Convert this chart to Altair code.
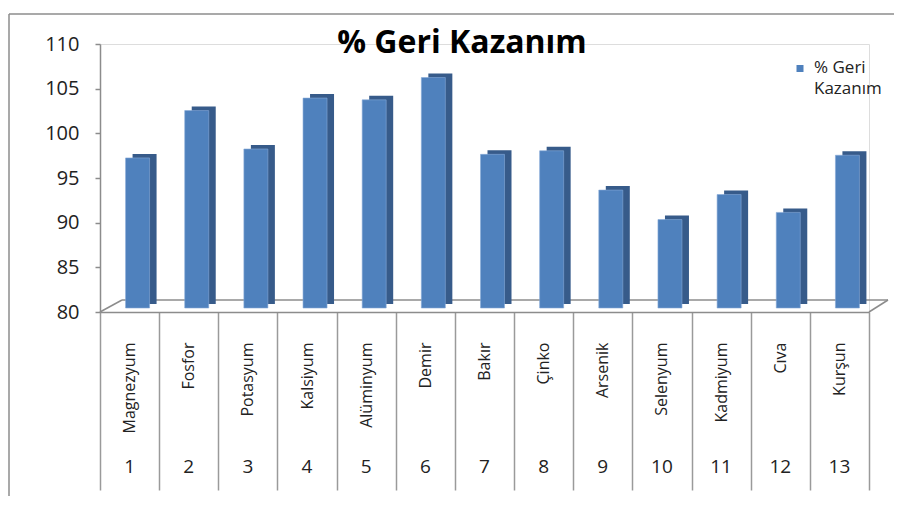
import altair as alt
import pandas as pd

# ---- data ----
names = ["Magnezyum", "Fosfor", "Potasyum", "Kalsiyum", "Alüminyum", "Demir", "Bakır",
         "Çinko", "Arsenik", "Selenyum", "Kadmiyum", "Cıva", "Kurşun"]
numbers = ["1", "2", "3", "4", "5", "6", "7", "8", "9", "10", "11", "12", "13"]
values = [96.8, 102.1, 97.8, 103.5, 103.3, 105.8, 97.2, 97.6, 93.2, 89.9, 92.7, 90.7, 97.1]
y_ticks = [80, 85, 90, 95, 100, 105, 110]
y_domain = [80, 110]
title_text = "% Geri Kazanım"
legend_lines = ["% Geri", "Kazanım"]

df = pd.DataFrame({"name": names, "num": numbers, "value": values})
one = alt.Data(values=[{}])

W, H = 769, 268
FONT = "Open Sans"
GREY = "#8c8c8c"
FRONT = "#4F81BD"
SIDE = "#375B8A"

band = alt.Scale(paddingInner=0, paddingOuter=0)
yscale = alt.Scale(domain=y_domain, zero=False, nice=False)

y_enc = alt.Y("value:Q", scale=yscale,
              axis=alt.Axis(values=y_ticks, title=None, grid=False, tickSize=5,
                            tickColor=GREY, tickWidth=1.5, domainColor=GREY, domainWidth=1.5,
                            labelFont=FONT, labelFontSize=20, labelColor="#222",
                            labelPadding=16))

x_names = alt.X("name:N", sort=names, scale=band,
                axis=alt.Axis(title=None, orient="bottom", labelAngle=-90,
                              labelAlign="right", labelBaseline="middle",
                              labelFont=FONT, labelFontSize=16, labelColor="#222",
                              labelPadding=-148, ticks=True, tickBand="extent",
                              tickSize=178, tickColor="#9a9a9a", tickWidth=1.5,
                              domainColor=GREY, domainWidth=1.5, labelLimit=300))

x_nums = alt.X("num:N", sort=numbers, scale=band,
               axis=alt.Axis(title=None, orient="bottom", labelAngle=0,
                             labelFont=FONT, labelFontSize=19, labelColor="#222",
                             labelPadding=145, ticks=False, domain=False))

# chart border (top and left edges visible in the reference)
border_left = alt.Chart(one).mark_rule(color=GREY, strokeWidth=1.5).encode(
    x=alt.value(-91), y=alt.value(-30), y2=alt.value(452))
border_top = alt.Chart(one).mark_rule(color=GREY, strokeWidth=1.5).encode(
    x=alt.value(-91), x2=alt.value(794), y=alt.value(-30))

# 3D floor outline
floor_back = alt.Chart(one).mark_rule(color=GREY, strokeWidth=1.5, yOffset=-12).encode(
    x=alt.value(22), x2=alt.value(788), y=alt.datum(80, scale=yscale))
floor_left = alt.Chart(one).mark_rule(color=GREY, strokeWidth=1.5, y2Offset=-12).encode(
    x=alt.value(0), x2=alt.value(22), y=alt.datum(80), y2=alt.datum(80))
floor_right = alt.Chart(one).mark_rule(color=GREY, strokeWidth=1.5, y2Offset=-12).encode(
    x=alt.value(769), x2=alt.value(788), y=alt.datum(80), y2=alt.datum(80))

back = alt.Chart(df).mark_bar(color=SIDE, size=24, xOffset=15, yOffset=-8, y2Offset=-8).encode(
    x=x_nums, y=y_enc, y2=alt.datum(80))
front = alt.Chart(df).mark_bar(color=FRONT, size=24, xOffset=8, yOffset=-4, y2Offset=-4,
                               stroke="#86A9D6", strokeWidth=0.6).encode(
    x=x_names, y=y_enc, y2=alt.datum(80))

legend_sym = alt.Chart(one).mark_square(size=49, color=FRONT, opacity=1).encode(
    x=alt.value(700), y=alt.value(24.5))
legend_txt = alt.Chart(one).mark_text(align="left", baseline="alphabetic", fontSize=17,
                                      font=FONT, lineHeight=21, color="#222").encode(
    x=alt.value(714), y=alt.value(29), text=alt.value(legend_lines))

title_mark = alt.Chart(one).mark_text(align="center", baseline="alphabetic", fontSize=32,
                                      font=FONT, fontWeight="bold", color="#000").encode(
    x=alt.value(362), y=alt.value(9), text=alt.value(title_text))

chart = alt.layer(
    border_left, border_top, floor_left, floor_back, floor_right, back, front,
    legend_sym, legend_txt, title_mark
).resolve_scale(x="independent").resolve_axis(x="independent").properties(
    width=W, height=H,
    autosize="none",
    padding={"left": 92, "top": 36, "right": 25, "bottom": 184},
).configure_view(stroke=None).configure(background="white")

chart.save("out.html", embed_options={"renderer": "svg", "actions": False})
